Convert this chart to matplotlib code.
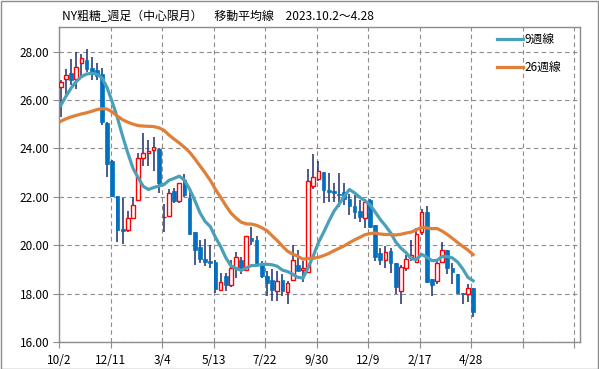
import matplotlib
matplotlib.use('Agg')
import matplotlib.pyplot as plt
from matplotlib.patches import Rectangle

plt.rcParams['font.family'] = ['Noto Sans CJK JP', 'DejaVu Sans']

# weekly OHLC, NY raw sugar (front month)
opens = [26.53, 26.86, 27.10, 26.86, 27.51, 27.65, 27.31, 27.24, 27.07, 25.06,
         23.48, 22.03, 20.66, 20.64, 21.13, 21.87, 23.59, 23.79, 23.95, 23.97,
         21.15, 21.22, 22.24, 21.83, 22.71, 21.95, 20.56, 19.92, 19.43, 19.34,
         19.29, 18.15, 18.74, 18.35, 19.07, 19.38, 18.97, 20.29, 20.21, 19.17,
         18.74, 18.56, 18.11, 18.56, 18.07, 18.56, 19.17, 18.97, 18.89, 22.44,
         22.73, 23.01, 22.28, 22.24, 22.13, 22.20, 21.90, 21.62, 21.42, 21.13,
         21.85, 20.83, 19.68, 19.40, 19.74, 19.27, 18.11, 19.05, 19.52, 19.29,
         20.56, 21.35, 18.59, 18.52, 19.29, 19.78, 19.06, 18.82, 18.04, 17.97,
         18.23]
highs = [26.83, 27.26, 27.67, 28.00, 27.90, 28.12, 27.78, 27.51, 27.30, 25.10,
         23.52, 22.05, 21.95, 21.43, 21.99, 23.79, 24.65, 24.35, 24.47, 24.00,
         21.72, 22.33, 22.36, 22.56, 22.92, 22.20, 20.56, 20.22, 20.26, 20.00,
         19.40, 18.83, 18.86, 19.40, 19.70, 19.51, 20.36, 20.76, 20.39, 19.33,
         18.93, 19.03, 18.93, 18.79, 18.52, 20.02, 19.81, 19.33, 23.15, 23.76,
         23.46, 23.01, 22.97, 22.58, 23.00, 22.56, 22.11, 22.06, 21.85, 21.92,
         21.92, 20.83, 19.88, 19.95, 19.88, 19.27, 19.20, 19.61, 20.22, 20.70,
         21.51, 21.62, 18.59, 19.33, 20.15, 19.78, 19.27, 18.82, 18.04, 18.38,
         18.23]
lows = [25.30, 26.24, 26.62, 26.45, 26.96, 27.16, 26.83, 26.83, 24.96, 22.81,
        22.00, 20.15, 20.04, 20.55, 21.10, 21.87, 23.26, 23.29, 23.08, 22.17,
        20.56, 21.17, 21.73, 21.75, 21.99, 20.43, 19.20, 19.27, 19.12, 19.06,
        18.01, 18.15, 18.11, 18.27, 18.65, 18.79, 18.93, 20.02, 19.17, 18.63,
        17.90, 17.70, 17.70, 17.90, 17.56, 18.56, 18.93, 18.49, 18.89, 22.30,
        22.66, 21.76, 21.79, 21.79, 21.58, 21.65, 21.24, 21.08, 20.97, 20.72,
        20.70, 19.33, 19.20, 19.06, 18.86, 17.97, 17.59, 18.93, 19.34, 19.29,
        20.43, 18.45, 17.90, 18.41, 19.27, 18.79, 18.41, 17.97, 17.56, 17.67,
        17.02]
closes = [26.73, 27.02, 26.83, 27.35, 27.74, 27.29, 27.16, 26.99, 25.08, 23.37,
          22.03, 20.63, 20.59, 21.13, 21.68, 23.59, 23.80, 23.91, 24.06, 22.58,
          21.17, 22.17, 21.84, 22.56, 22.06, 20.47, 19.78, 19.44, 19.32, 19.27,
          18.20, 18.48, 18.35, 19.06, 19.50, 19.00, 20.36, 20.18, 19.27, 18.72,
          18.45, 18.14, 18.51, 18.11, 18.44, 19.40, 18.95, 19.06, 22.67, 22.80,
          23.05, 22.28, 22.20, 22.16, 22.06, 21.90, 21.62, 21.37, 21.15, 21.79,
          20.75, 19.53, 19.40, 19.70, 19.25, 18.27, 19.09, 19.42, 19.58, 20.48,
          21.35, 18.49, 18.35, 19.27, 19.78, 19.04, 18.89, 18.04, 17.97, 18.23,
          17.22]
ma9 = [25.78, 26.15, 26.49, 26.76, 26.96, 27.07, 27.10, 27.06, 26.91, 26.50,
       25.90, 25.25, 24.50, 23.81, 23.18, 22.79, 22.43, 22.30, 22.38, 22.44,
       22.50, 22.68, 22.76, 22.85, 22.68, 22.31, 21.85, 21.34, 20.98, 20.77,
       20.33, 19.95, 19.49, 19.15, 19.04, 18.96, 19.06, 19.16, 19.16, 19.21,
       19.21, 19.19, 19.13, 18.97, 18.91, 18.80, 18.67, 18.64, 19.08, 19.56,
       20.11, 20.53, 20.98, 21.40, 21.69, 22.02, 22.30, 22.16, 21.98, 21.84,
       21.67, 21.37, 21.06, 20.80, 20.51, 20.13, 19.88, 19.69, 19.44, 19.41,
       19.62, 19.51, 19.36, 19.37, 19.53, 19.53, 19.47, 19.30, 19.02, 18.67,
       18.53]
ma26 = [25.12, 25.22, 25.30, 25.36, 25.42, 25.47, 25.53, 25.60, 25.64, 25.62,
        25.50, 25.33, 25.18, 25.08, 25.00, 24.94, 24.92, 24.91, 24.90, 24.85,
        24.75, 24.55, 24.38, 24.22, 24.04, 23.84, 23.57, 23.28, 22.99, 22.68,
        22.31, 21.98, 21.64, 21.33, 21.12, 20.95, 20.88, 20.87, 20.82, 20.72,
        20.60, 20.39, 20.19, 19.96, 19.75, 19.63, 19.54, 19.42, 19.45, 19.46,
        19.50, 19.57, 19.66, 19.77, 19.87, 19.97, 20.10, 20.22, 20.32, 20.43,
        20.48, 20.50, 20.46, 20.44, 20.44, 20.42, 20.45, 20.50, 20.54, 20.63,
        20.74, 20.71, 20.68, 20.69, 20.58, 20.44, 20.28, 20.11, 19.95, 19.80,
        19.61]
date_labels = ['10/2', '12/11', '3/4', '5/13', '7/22', '9/30', '12/9', '2/17', '4/28']

title = 'NY粗糖_週足（中心限月）　移動平均線　2023.10.2～4.28'

fig = plt.figure(figsize=(5.99, 3.69), dpi=100)
ax = fig.add_axes([59/599, 1 - 342/369, 520.5/599, 314.7/369])

xs = [i + 0.35 for i in range(len(closes))]

# wicks
ax.vlines(xs, lows, highs, color='#1B2F6B', lw=1.1, zorder=2)

# bodies
w = 0.72
for x, o, c in zip(xs, opens, closes):
    lo = min(o, c)
    h = max(abs(c - o), 0.03)
    if c >= o:
        ax.bar(x, h, bottom=lo, width=w, facecolor='white', edgecolor='#FF0000',
               lw=1.0, zorder=3)
    else:
        ax.bar(x, h, bottom=lo, width=w, facecolor='#0070C0', edgecolor='#0070C0',
               lw=0.5, zorder=3)

ax.plot(xs, ma9, color='#4AA0B8', lw=2.3, label='9週線', zorder=4)
ax.plot(xs, ma26, color='#E07F38', lw=2.3, label='26週線', zorder=4)

ax.set_xlim(0, 101)
ax.set_ylim(16, 29)
ax.set_yticks(range(16, 29, 2))
ax.set_yticklabels(['%.2f' % v for v in range(16, 29, 2)])
ax.set_xticks(range(0, 101, 10))
ax.set_xticklabels(date_labels + ['', ''])

ax.set_axisbelow(True)
ax.grid(True, color='#8c8c8c', linestyle=(0, (4, 3)), lw=0.8)
for s in ax.spines.values():
    s.set_color('#8c8c8c')
    s.set_linewidth(1.0)
ax.tick_params(axis='both', length=4, color='#8c8c8c', labelsize=8.5,
               labelcolor='#000000')
ax.tick_params(axis='x', pad=5)
ax.tick_params(axis='y', pad=3)

fig.text(62/599, 1 - 17/369, title, fontsize=8.6, ha='left', va='center')

ax.legend(loc='upper left', bbox_to_anchor=(497/599, 1 - 33/369),
          bbox_transform=fig.transFigure, frameon=False, fontsize=8.5,
          handlelength=2.2, handletextpad=0.15, labelspacing=1.3,
          borderpad=0, borderaxespad=0)

fig.patches.append(Rectangle((0.5/599, 0.5/369), 597.5/599, 367.5/369,
                             transform=fig.transFigure, fill=False,
                             edgecolor='#8c8c8c', lw=1.0))

fig.savefig('out.png', dpi=100)
